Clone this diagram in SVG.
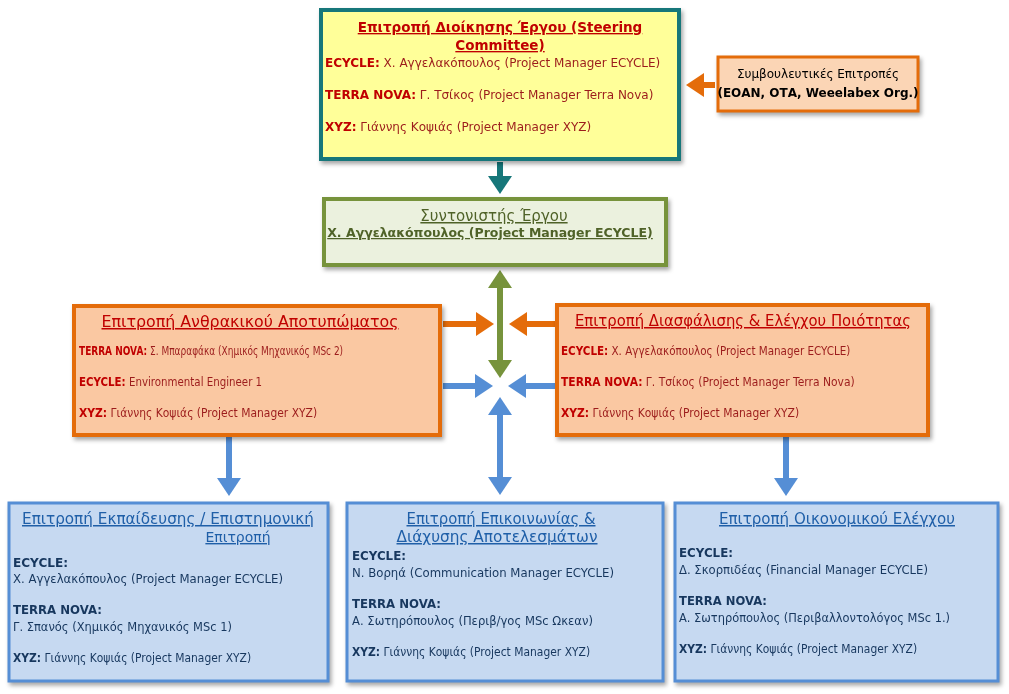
<svg xmlns="http://www.w3.org/2000/svg" width="1009" height="694" viewBox="0 0 1009 694">
<style>
text{font-family:"DejaVu Sans","Liberation Sans",sans-serif;font-size:12px}
.h{font-weight:bold;text-decoration:underline;font-size:13.5px;text-anchor:middle}
.r{fill:#c00000}.rb{fill:#9c1c1c}
.b{fill:#1f5fa8}.bb{fill:#17375e}
.k{font-weight:bold}
.c{font-size:12.5px}
.sh{filter:drop-shadow(2px 3px 2px rgba(0,0,0,0.35))}
</style>
<defs>
<marker id="ao" markerWidth="4" markerHeight="4" refX="1" refY="2" orient="auto" markerUnits="strokeWidth"><path d="M0,0L3,2L0,4z" fill="#e46c0a"/></marker>
<marker id="ab" markerWidth="4" markerHeight="4" refX="1" refY="2" orient="auto-start-reverse" markerUnits="strokeWidth"><path d="M0,0L3,2L0,4z" fill="#558ed5"/></marker>
<marker id="ag" markerWidth="4" markerHeight="4" refX="1" refY="2" orient="auto-start-reverse" markerUnits="strokeWidth"><path d="M0,0L3,2L0,4z" fill="#77933c"/></marker>
<marker id="at" markerWidth="4" markerHeight="4" refX="1" refY="2" orient="auto" markerUnits="strokeWidth"><path d="M0,0L3,2L0,4z" fill="#17777a"/></marker>
</defs>
<g id="connectors" stroke-width="6" fill="none">
<line x1="500" y1="162" x2="500" y2="182" stroke="#17777a" marker-end="url(#at)"/>
<line x1="715" y1="85" x2="698" y2="85" stroke="#e46c0a" marker-end="url(#ao)"/>
<line x1="500" y1="282" x2="500" y2="366" stroke="#77933c" marker-start="url(#ag)" marker-end="url(#ag)"/>
<line x1="443" y1="324" x2="482" y2="324" stroke="#e46c0a" marker-end="url(#ao)"/>
<line x1="556" y1="324" x2="521" y2="324" stroke="#e46c0a" marker-end="url(#ao)"/>
<line x1="443" y1="386" x2="481" y2="386" stroke="#558ed5" marker-end="url(#ab)"/>
<line x1="556" y1="386" x2="520" y2="386" stroke="#558ed5" marker-end="url(#ab)"/>
<line x1="500" y1="409" x2="500" y2="483" stroke="#558ed5" marker-start="url(#ab)" marker-end="url(#ab)"/>
<line x1="229" y1="437" x2="229" y2="484" stroke="#558ed5" marker-end="url(#ab)"/>
<line x1="786" y1="437" x2="786" y2="484" stroke="#558ed5" marker-end="url(#ab)"/>
</g>
<g id="steering" class="sh">
<rect x="321" y="10" width="358" height="149" fill="#ffff99" stroke="#17777a" stroke-width="4"/>
<text class="h r" x="500" y="32">Επιτροπή Διοίκησης Έργου (Steering</text>
<text class="h r" x="500" y="50">Committee)</text>
<text x="325" y="67" class="rb"><tspan class="k r">ECYCLE:</tspan> Χ. Αγγελακόπουλος (Project Manager ECYCLE)</text>
<text x="325" y="99" class="rb"><tspan class="k r">TERRA NOVA:</tspan> Γ. Τσίκος (Project Manager Terra Nova)</text>
<text x="325" y="131" class="rb"><tspan class="k r">XYZ:</tspan> Γιάννης Κοψιάς (Project Manager XYZ)</text>
</g>
<g id="advisory" class="sh">
<rect x="718" y="57" width="200" height="54" fill="#fbd5b5" stroke="#e46c0a" stroke-width="3"/>
<text x="818" y="78" text-anchor="middle" style="font-size:12px;fill:#000">Συμβουλευτικές Επιτροπές</text>
<text x="818" y="97" text-anchor="middle" class="k" style="fill:#000">(ΕΟΑΝ, ΟΤΑ, Weeelabex Org.)</text>
</g>
<g id="coordinator" class="sh">
<rect x="324" y="199" width="342" height="66" fill="#ebf1de" stroke="#77933c" stroke-width="4"/>
<text class="h" x="494" y="221" style="fill:#4f6228;font-weight:normal;font-size:15px">Συντονιστής Έργου</text>
<text class="h" x="490" y="237" style="fill:#4f6228;font-size:12.5px">Χ. Αγγελακόπουλος (Project Manager ECYCLE)</text>
</g>
<g id="carbon" class="sh">
<rect x="74" y="306" width="366" height="129" fill="#fac8a2" stroke="#e46c0a" stroke-width="4"/>
<text class="h r" x="250" y="327" style="font-weight:normal;font-size:15px" textLength="297" lengthAdjust="spacingAndGlyphs">Επιτροπή Ανθρακικού Αποτυπώματος</text>
<text transform="translate(79,355) scale(0.72,1)" class="rb c"><tspan class="k r">TERRA NOVA:</tspan>  Σ. Μπαραφάκα  (Χημικός Μηχανικός MSc 2)</text>
<text transform="translate(79,386) scale(0.82,1)" class="rb c"><tspan class="k r">ECYCLE:</tspan> Environmental Engineer 1</text>
<text transform="translate(79,417) scale(0.86,1)" class="rb c"><tspan class="k r">XYZ:</tspan> Γιάννης Κοψιάς (Project Manager XYZ)</text>
</g>
<g id="quality" class="sh">
<rect x="557" y="305" width="371" height="130" fill="#fac8a2" stroke="#e46c0a" stroke-width="4"/>
<text class="h r" x="743" y="326" style="font-weight:normal;font-size:15px" textLength="336" lengthAdjust="spacingAndGlyphs">Επιτροπή Διασφάλισης &amp; Ελέγχου Ποιότητας</text>
<text transform="translate(561,355) scale(0.83,1)" class="rb c"><tspan class="k r">ECYCLE:</tspan> Χ. Αγγελακόπουλος (Project Manager ECYCLE)</text>
<text transform="translate(561,386) scale(0.86,1)" class="rb c"><tspan class="k r">TERRA NOVA:</tspan> Γ. Τσίκος (Project Manager Terra Nova)</text>
<text transform="translate(561,417) scale(0.86,1)" class="rb c"><tspan class="k r">XYZ:</tspan> Γιάννης Κοψιάς (Project Manager XYZ)</text>
</g>
<g id="training" class="sh">
<rect x="9" y="503" width="319" height="178" fill="#c6d9f1" stroke="#558ed5" stroke-width="3"/>
<text class="h b" x="168" y="524" style="font-weight:normal;font-size:15px" textLength="292" lengthAdjust="spacingAndGlyphs">Επιτροπή Εκπαίδευσης / Επιστημονική</text>
<text class="h b" x="238" y="542" style="font-weight:normal;font-size:14px">Επιτροπή</text>
<text x="13" y="567" class="k bb c" textLength="55" lengthAdjust="spacingAndGlyphs">ECYCLE:</text>
<text x="13" y="583" class="bb c" textLength="270" lengthAdjust="spacingAndGlyphs">Χ. Αγγελακόπουλος (Project Manager ECYCLE)</text>
<text x="13" y="614" class="k bb c" textLength="89" lengthAdjust="spacingAndGlyphs">TERRA NOVA:</text>
<text x="13" y="631" class="bb c" textLength="219" lengthAdjust="spacingAndGlyphs">Γ. Σπανός (Χημικός Μηχανικός MSc 1)</text>
<text transform="translate(13,662) scale(0.86,1)" class="bb c"><tspan class="k">XYZ:</tspan> Γιάννης Κοψιάς (Project Manager XYZ)</text>
</g>
<g id="communication" class="sh">
<rect x="347" y="503" width="316" height="178" fill="#c6d9f1" stroke="#558ed5" stroke-width="3"/>
<text class="h b" x="501" y="524" style="font-weight:normal;font-size:15px" textLength="189" lengthAdjust="spacingAndGlyphs">Επιτροπή Επικοινωνίας &amp;</text>
<text class="h b" x="497" y="542" style="font-weight:normal;font-size:15px" textLength="201" lengthAdjust="spacingAndGlyphs">Διάχυσης Αποτελεσμάτων</text>
<text x="352" y="560" class="k bb c" textLength="54" lengthAdjust="spacingAndGlyphs">ECYCLE:</text>
<text x="352" y="577" class="bb c" textLength="262" lengthAdjust="spacingAndGlyphs">Ν. Βορηά (Communication  Manager ECYCLE)</text>
<text x="352" y="608" class="k bb c" textLength="89" lengthAdjust="spacingAndGlyphs">TERRA NOVA:</text>
<text x="352" y="625" class="bb c" textLength="241" lengthAdjust="spacingAndGlyphs">Α. Σωτηρόπουλος  (Περιβ/γος MSc Ωκεαν)</text>
<text transform="translate(352,656) scale(0.86,1)" class="bb c"><tspan class="k">XYZ:</tspan> Γιάννης Κοψιάς (Project Manager XYZ)</text>
</g>
<g id="finance" class="sh">
<rect x="675" y="503" width="323" height="178" fill="#c6d9f1" stroke="#558ed5" stroke-width="3"/>
<text class="h b" x="837" y="524" style="font-weight:normal;font-size:15px" textLength="236" lengthAdjust="spacingAndGlyphs">Επιτροπή Οικονομικού Ελέγχου</text>
<text x="679" y="557" class="k bb c" textLength="54" lengthAdjust="spacingAndGlyphs">ECYCLE:</text>
<text x="679" y="574" class="bb c" textLength="249" lengthAdjust="spacingAndGlyphs">Δ. Σκορπιδέας (Financial Manager ECYCLE)</text>
<text x="679" y="605" class="k bb c" textLength="88" lengthAdjust="spacingAndGlyphs">TERRA NOVA:</text>
<text x="679" y="622" class="bb c" textLength="271" lengthAdjust="spacingAndGlyphs">Α. Σωτηρόπουλος  (Περιβαλλοντολόγος MSc 1.)</text>
<text transform="translate(679,653) scale(0.86,1)" class="bb c"><tspan class="k">XYZ:</tspan> Γιάννης Κοψιάς (Project Manager XYZ)</text>
</g>
</svg>
